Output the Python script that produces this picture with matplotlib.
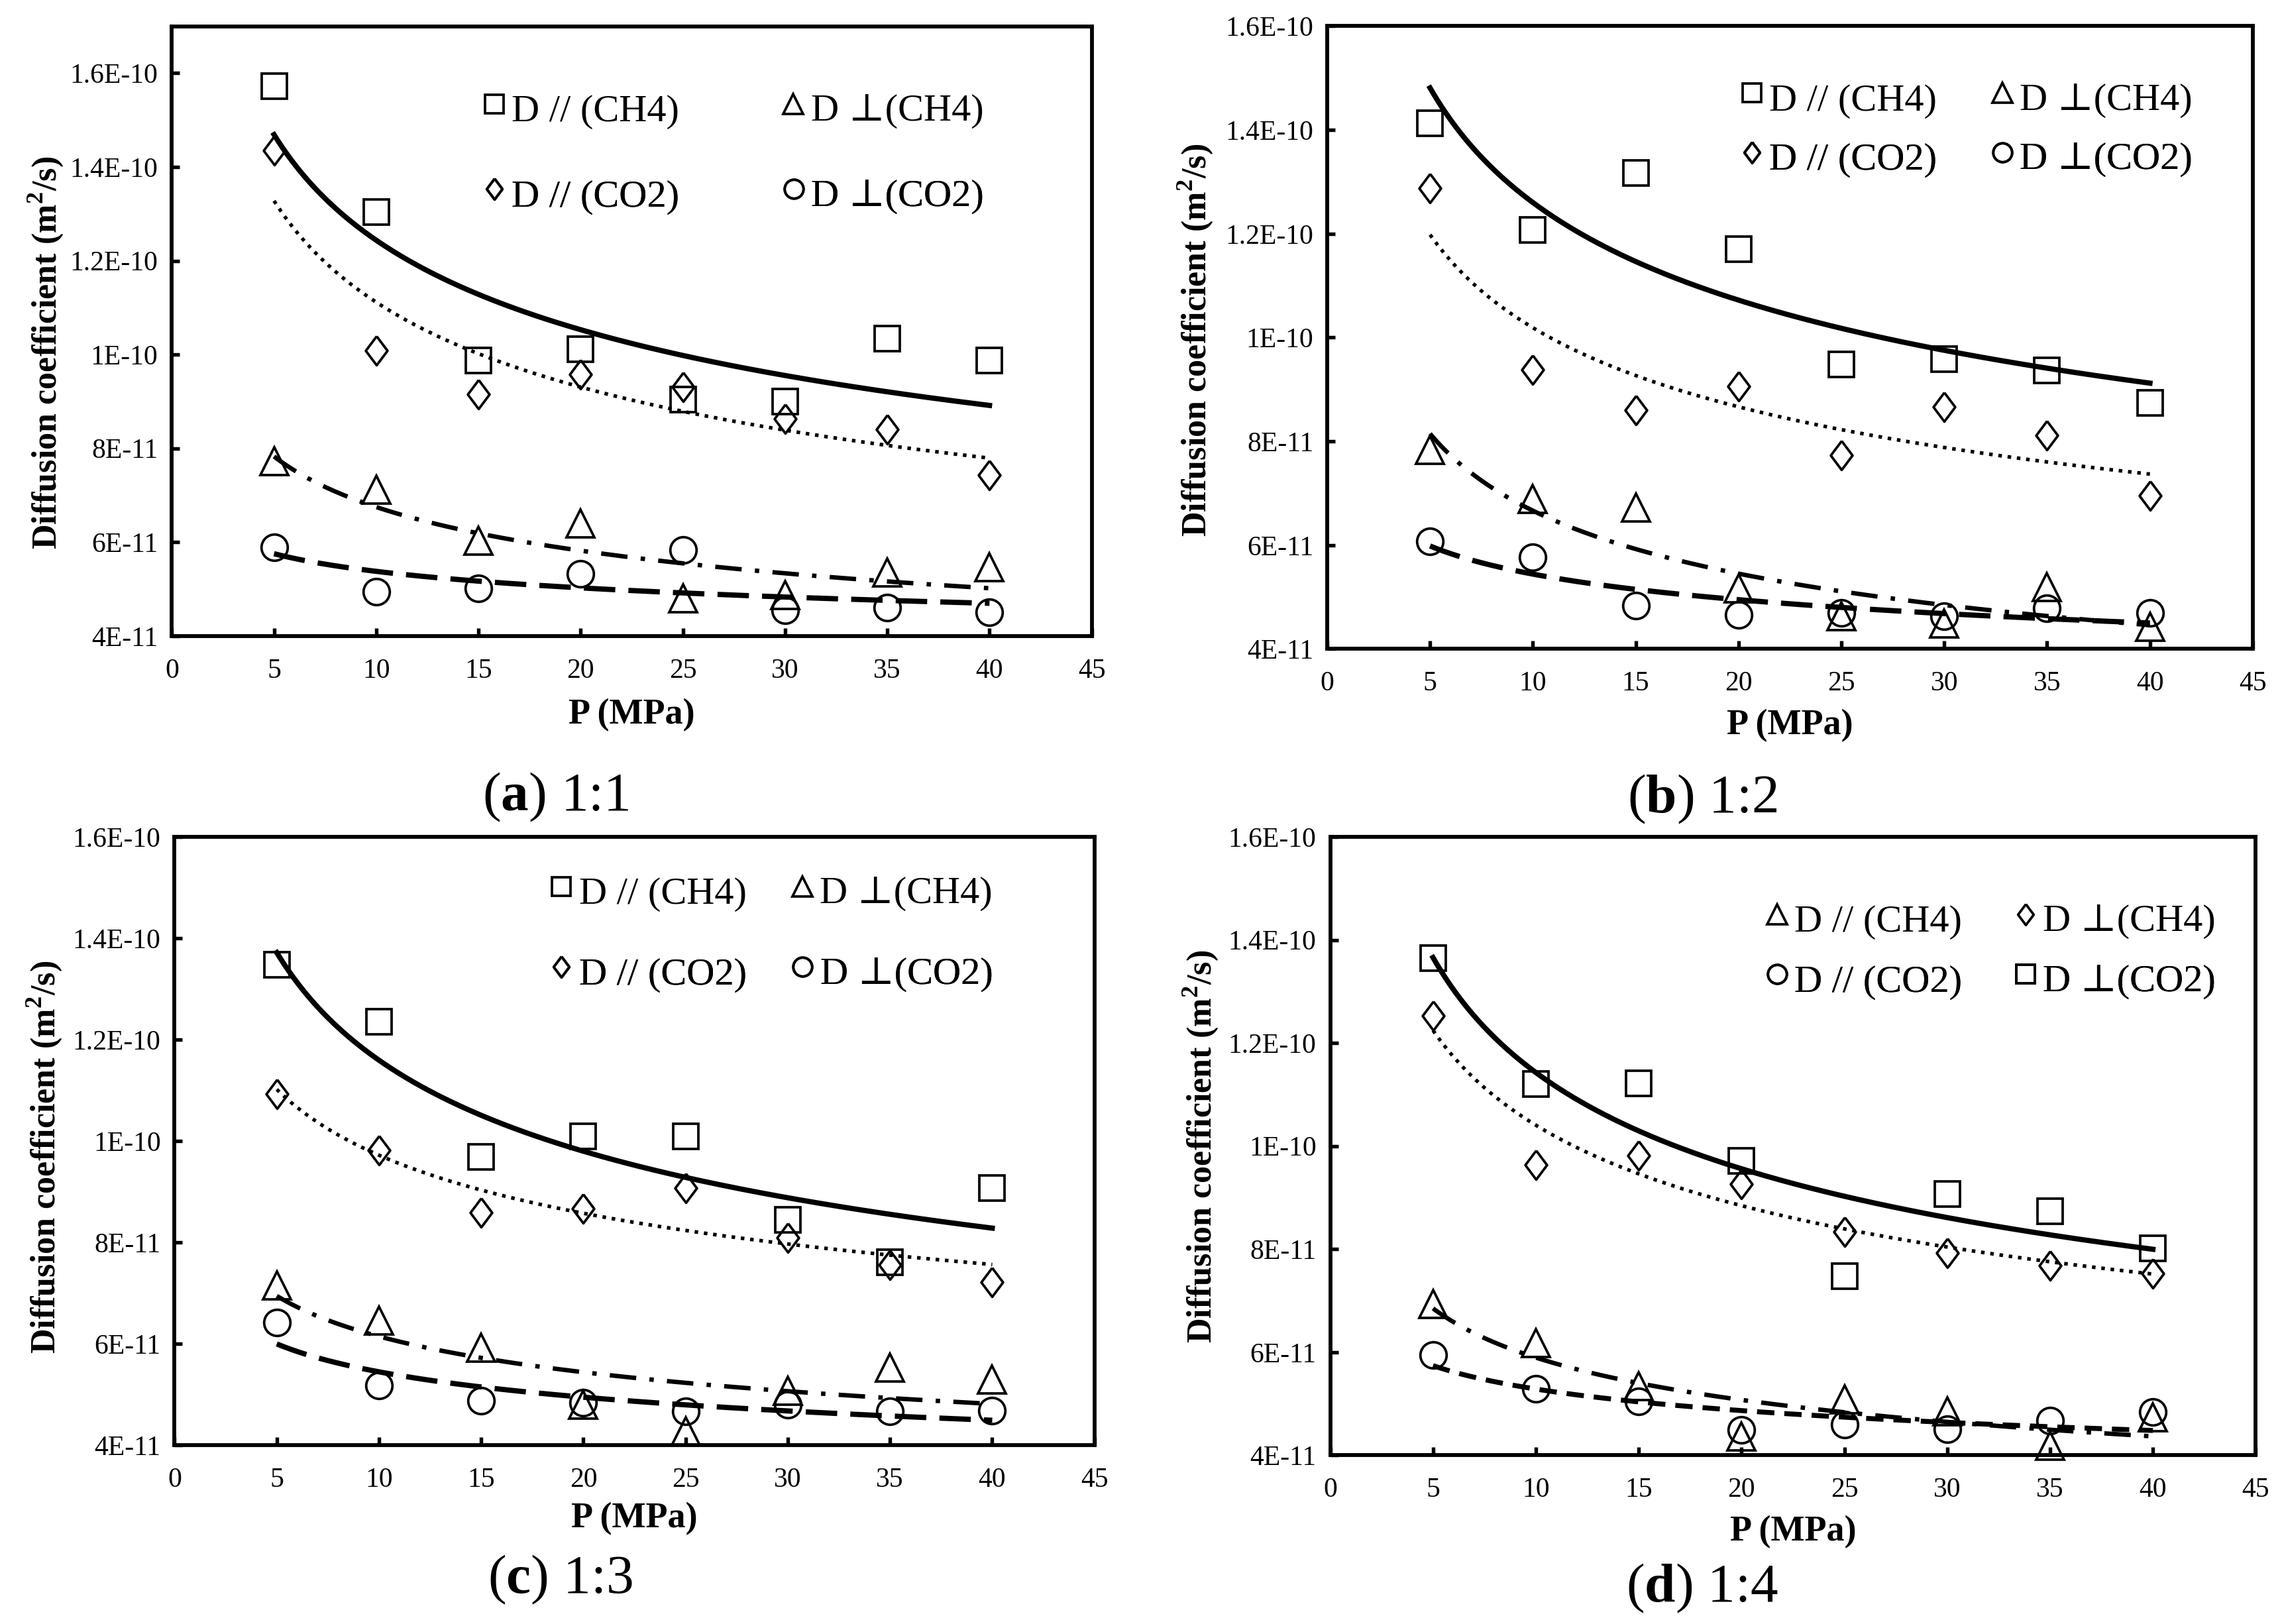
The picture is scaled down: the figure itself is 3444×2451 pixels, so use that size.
import numpy as np
import matplotlib
matplotlib.use('Agg')
import matplotlib.pyplot as plt
from matplotlib.lines import Line2D
from matplotlib.legend_handler import HandlerLine2D
from matplotlib.font_manager import FontProperties

plt.rcParams['font.family'] = ['Liberation Serif', 'DejaVu Serif']
plt.rcParams['mathtext.fontset'] = 'custom'
plt.rcParams['mathtext.rm'] = 'Liberation Serif'
plt.rcParams['mathtext.bf'] = 'Liberation Serif:bold'

pressure = [5, 10, 15, 20, 25, 30, 35, 40]

# diffusion coefficients in 1e-11 m2/s, read per panel
# (a) 1:1
a_square = [15.73, 13.04, 9.87, 10.11, 9.04, 9.00, 10.34, 9.87]
a_triangle = [7.73, 7.12, 6.03, 6.40, 4.80, 4.88, 5.36, 5.47]
a_diamond = [14.36, 10.08, 9.16, 9.58, 9.31, 8.63, 8.41, 7.43]
a_circle = [5.89, 4.94, 5.02, 5.32, 5.83, 4.55, 4.60, 4.50]
# (b) 1:2
b_square = [14.13, 12.07, 13.17, 11.70, 9.48, 9.58, 9.37, 8.74]
b_triangle = [7.84, 6.89, 6.72, 5.17, 4.63, 4.49, 5.19, 4.43]
b_diamond = [12.88, 9.38, 8.60, 9.06, 7.73, 8.67, 8.11, 6.96]
b_circle = [6.07, 5.77, 4.84, 4.66, 4.69, 4.63, 4.78, 4.69]
# (c) 1:3
c_square = [13.47, 12.35, 9.68, 10.09, 10.09, 8.44, 7.60, 9.07]
c_triangle = [7.15, 6.46, 5.92, 4.80, 4.27, 5.07, 5.53, 5.29]
c_diamond = [10.92, 9.82, 8.58, 8.66, 9.07, 8.09, 7.55, 7.21]
c_circle = [6.42, 5.17, 4.88, 4.83, 4.66, 4.80, 4.66, 4.68]
# (d) 1:4
d_square = [13.65, 11.20, 11.22, 9.71, 7.48, 9.07, 8.73, 8.01]
d_triangle = [6.93, 6.18, 5.34, 4.36, 5.08, 4.85, 4.19, 4.74]
d_diamond = [12.53, 9.63, 9.81, 9.26, 8.34, 7.93, 7.68, 7.53]
d_circle = [5.94, 5.29, 5.05, 4.49, 4.59, 4.51, 4.67, 4.84]

labels_abc = ['D // (CH4)', 'D ⊥(CH4)', 'D // (CO2)', 'D ⊥(CO2)']
labels_d = ['D ⊥(CO2)', 'D // (CH4)', 'D ⊥(CH4)', 'D // (CO2)']

y_ticks = [4, 6, 8, 10, 12, 14, 16]
y_tick_labels = ['4E-11', '6E-11', '8E-11', '1E-10', '1.2E-10', '1.4E-10', '1.6E-10']
x_ticks = [0, 5, 10, 15, 20, 25, 30, 35, 40, 45]

diamond = [(0, 1), (0.75, 0), (0, -1), (-0.75, 0), (0, 1)]

marker_style = {
    'square': dict(marker='s', ms=9.3),
    'triangle': dict(marker='^', ms=10),
    'diamond': dict(marker=diamond, ms=10.5),
    'circle': dict(marker='o', ms=9.5),
}
line_style = {
    'square': dict(ls='-', lw=1.9),
    'diamond': dict(ls=(0, (1, 1.6)), lw=1.3),
    'triangle': dict(ls=(0, (6, 3, 1, 3)), lw=1.6),
    'circle': dict(ls=(0, (6, 2.5)), lw=1.9),
}

panels = [
    dict(rect=[0.0753, 0.6084, 0.4031, 0.3754], ytop=17, caption='a', ratio='1:1',
         cap_xy=(0.2436, 0.509), ylab=(-0.137, 0.464), xlab_y=-0.13,
         data={'square': a_square, 'triangle': a_triangle, 'diamond': a_diamond, 'circle': a_circle},
         legend=[('square', labels_abc[0]), ('triangle', labels_abc[1]),
                 ('diamond', labels_abc[2]), ('circle', labels_abc[3])],
         leg_x=0.338, leg_rows=(0.86, 0.72), colsp=2.65),
    dict(rect=[0.5816, 0.6004, 0.4056, 0.3835], ytop=16, caption='b', ratio='1:2',
         cap_xy=(0.746, 0.508), ylab=(-0.143, 0.496), xlab_y=-0.123,
         data={'square': b_square, 'triangle': b_triangle, 'diamond': b_diamond, 'circle': b_circle},
         legend=[('square', labels_abc[0]), ('triangle', labels_abc[1]),
                 ('diamond', labels_abc[2]), ('circle', labels_abc[3])],
         leg_x=0.446, leg_rows=(0.88, 0.785), colsp=1.4),
    dict(rect=[0.0765, 0.1102, 0.4031, 0.3746], ytop=16, caption='c', ratio='1:3',
         cap_xy=(0.2455, 0.027), ylab=(-0.142, 0.473), xlab_y=-0.121,
         data={'square': c_square, 'triangle': c_triangle, 'diamond': c_diamond, 'circle': c_circle},
         legend=[('square', labels_abc[0]), ('triangle', labels_abc[1]),
                 ('diamond', labels_abc[2]), ('circle', labels_abc[3])],
         leg_x=0.408, leg_rows=(0.905, 0.773), colsp=1.15),
    dict(rect=[0.5829, 0.1039, 0.4056, 0.3808], ytop=16, caption='d', ratio='1:4',
         cap_xy=(0.746, 0.022), ylab=(-0.14, 0.499), xlab_y=-0.124,
         data={'square': d_square, 'triangle': d_triangle, 'diamond': d_diamond, 'circle': d_circle},
         legend=[('triangle', labels_d[1]), ('diamond', labels_d[2]),
                 ('circle', labels_d[3]), ('square', labels_d[0])],
         leg_x=0.47, leg_rows=(0.862, 0.765), colsp=1.35, short_dash=True),
]


class RaisedMarker(HandlerLine2D):
    # legend symbols sit a little above the text centre in the original
    def create_artists(self, legend, orig_handle, xdescent, ydescent, width, height, fontsize, trans):
        artists = super().create_artists(legend, orig_handle, xdescent, ydescent,
                                         width, height, fontsize, trans)
        for art in artists:
            art.set_ydata(np.asarray(art.get_ydata(), dtype=float) + 0.1 * fontsize)
        return artists


fig = plt.figure(figsize=(11.48, 8.17), dpi=300)
leg_font = FontProperties(family=['Liberation Serif', 'DejaVu Serif'], size=14)

for p in panels:
    ax = fig.add_axes(p['rect'])
    x = np.array(pressure, dtype=float)
    xs = np.linspace(5, 40, 200)

    # power-law trendlines fitted to each series (as in the original)
    for key in ['square', 'diamond', 'triangle', 'circle']:
        y = np.array(p['data'][key]) * 1e-11
        b, a = np.polyfit(np.log(x), np.log(y), 1)
        st = dict(line_style[key])
        if key == 'circle' and p.get('short_dash'):
            st = dict(ls=(0, (3.5, 2)), lw=1.8)
        ax.plot(xs, np.exp(a) * xs ** b, color='black', zorder=2, **st)

    for key in ['square', 'triangle', 'diamond', 'circle']:
        y = np.array(p['data'][key]) * 1e-11
        ax.plot(x, y, ls='none', mfc='none', mec='black', mew=0.9, zorder=3,
                clip_on=False, **marker_style[key])

    ax.set_xlim(0, 45)
    ax.set_ylim(4e-11, p['ytop'] * 1e-11)
    ax.set_xticks(x_ticks)
    ax.set_xticklabels([str(t) for t in x_ticks])
    ax.set_yticks([v * 1e-11 for v in y_ticks])
    ax.set_yticklabels(y_tick_labels)
    ax.tick_params(direction='in', length=2.8, width=1.3, labelsize=10)
    ax.tick_params(axis='y', pad=5)
    ax.tick_params(axis='x', pad=8)
    for sp in ax.spines.values():
        sp.set_linewidth(1.4)

    ax.set_ylabel('Diffusion coefficient (m$^{\\mathbf{2}}$/s)', fontsize=12.5, fontweight='bold')
    ax.yaxis.set_label_coords(*p['ylab'])
    ax.yaxis.label.set_verticalalignment('center')
    ax.set_xlabel('P (MPa)', fontsize=13, fontweight='bold')
    ax.xaxis.set_label_coords(0.5, p['xlab_y'])
    ax.xaxis.label.set_verticalalignment('center')

    # legend drawn as two rows, each with two entries
    rows = [p['legend'][:2], p['legend'][2:]]
    for row, yrow in zip(rows, p['leg_rows']):
        handles = [Line2D([], [], ls='none', mfc='none', mec='black', mew=0.9,
                          marker=marker_style[k]['marker'], ms=marker_style[k]['ms'] * 0.72)
                   for k, _ in row]
        leg = ax.legend(handles, [lab for _, lab in row], ncol=2, loc='center left',
                        bbox_to_anchor=(p['leg_x'], yrow), frameon=False, prop=leg_font,
                        handlelength=0.6, handletextpad=0.15, columnspacing=p['colsp'],
                        borderpad=0, borderaxespad=0,
                        handler_map={Line2D: RaisedMarker()})
        ax.add_artist(leg)

    fig.text(p['cap_xy'][0], p['cap_xy'][1], '($\\mathbf{%s}$) %s' % (p['caption'], p['ratio']),
             ha='center', va='center', fontsize=20)

fig.savefig('out.png', dpi=300)
